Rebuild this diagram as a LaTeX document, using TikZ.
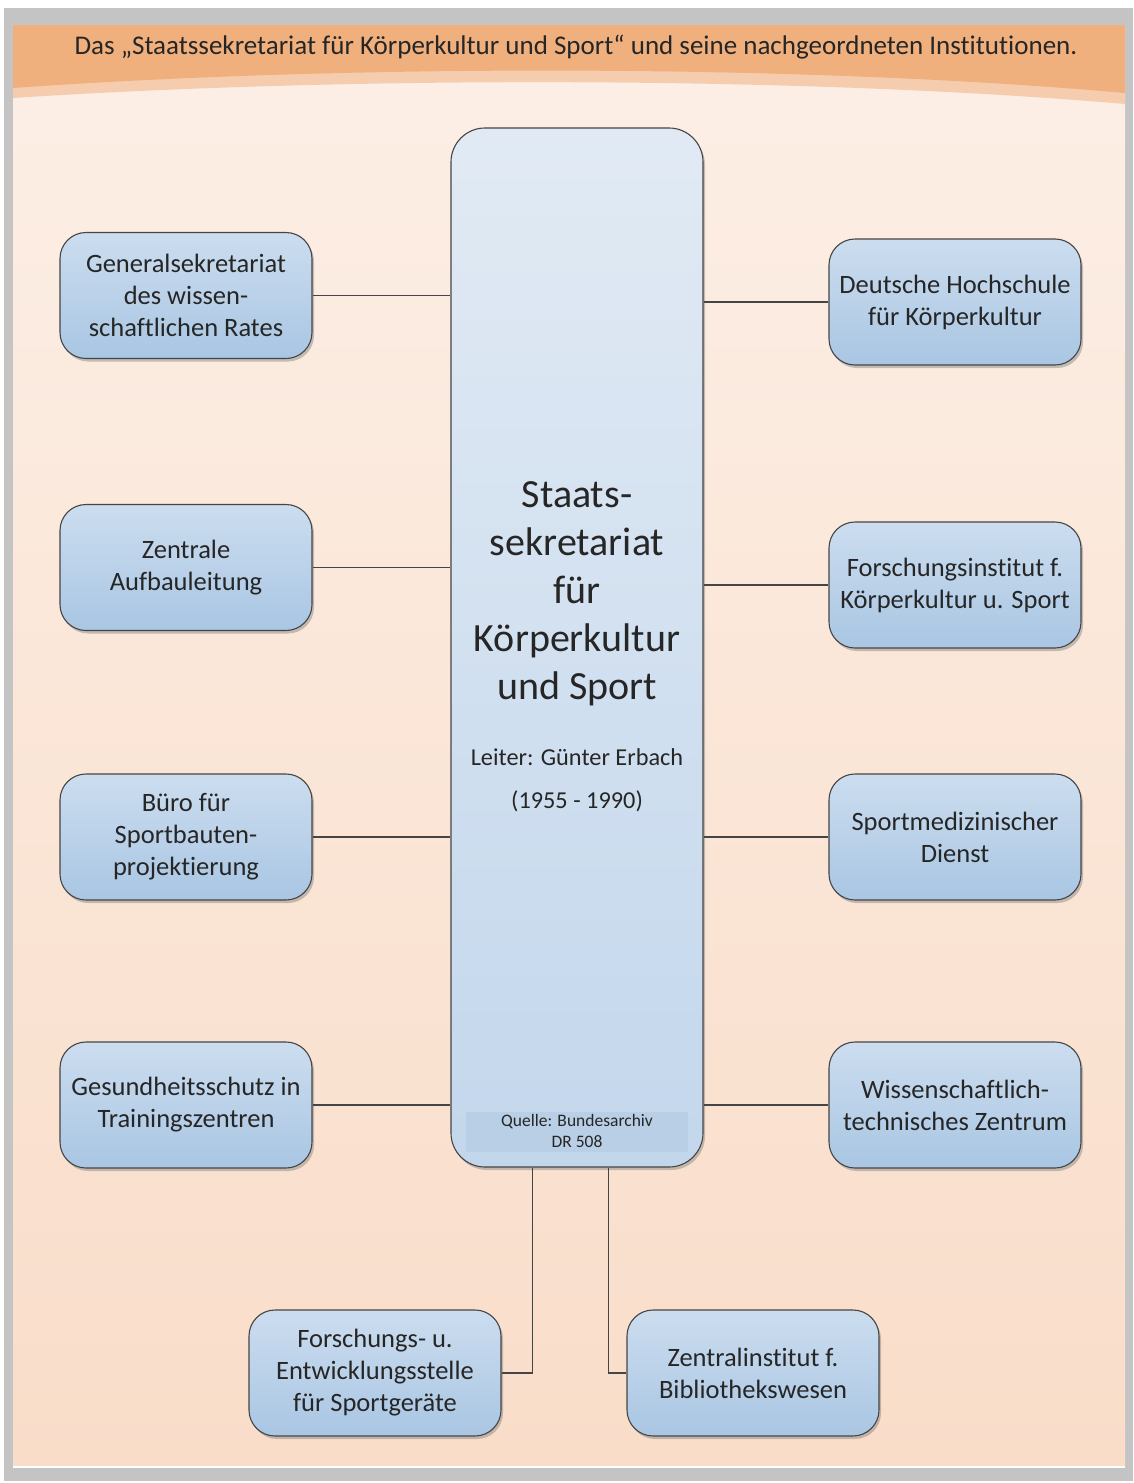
\documentclass[tikz,border=0pt]{standalone}
\usepackage{fontspec}
\setmainfont[Ligatures=NoCommon]{Carlito}
\usetikzlibrary{shadows}
\definecolor{framegray}{HTML}{C4C4C4}
\definecolor{bgtop}{HTML}{FCEFE6}
\definecolor{bgbot}{HTML}{F9DDC9}
\definecolor{banddark}{HTML}{F0B07E}
\definecolor{bandlight}{HTML}{F5CDAE}
\definecolor{boxtop}{HTML}{CCDDEF}
\definecolor{boxbot}{HTML}{A9C6E3}
\definecolor{centtop}{HTML}{E1EAF4}
\definecolor{centbot}{HTML}{C3D7EC}
\definecolor{quellefill}{HTML}{B4CCE4}
\definecolor{boxline}{HTML}{454545}
\definecolor{textc}{HTML}{262626}
\tikzset{
  unit/.style={draw=boxline, line width=1.1pt, rounded corners=26pt,
    top color=boxtop, bottom color=boxbot,
    minimum width=252pt, minimum height=126pt, inner sep=4pt,
    align=center, text=textc, font=\fontsize{26.5}{32}\selectfont,
    drop shadow={shadow xshift=2pt, shadow yshift=-3pt, opacity=0.45}},
  conn/.style={draw=boxline, line width=1.1pt},
}
\begin{document}
\begin{tikzpicture}[x=1pt,y=-1pt]
\useasboundingbox (0,0) rectangle (1133,1483);
% page and frame
\fill[white] (0,0) rectangle (1133,1483);
\fill[framegray] (4,8) rectangle (1133,1481);
\shade[top color=bgtop, bottom color=bgbot] (13,25) rectangle (1125,1466);
\draw[white, line width=1.5pt] (13,1467) -- (1125,1467);
% header band
\fill[bandlight] (13,25) -- (1125,25) -- (1125,104) .. controls (800,76) and (350,76) .. (13,98) -- cycle;
\fill[banddark] (13,25) -- (1125,25) -- (1125,93) .. controls (800,64) and (350,64) .. (13,88) -- cycle;
\node[text=textc, font=\fontsize{27}{30}\selectfont] (title) at (576,47)
  {Das „Staatssekretariat für Körperkultur und Sport“ und seine nachgeordneten Institutionen.};

% central office
\node[draw=boxline, line width=1.1pt, rounded corners=34pt,
  top color=centtop, bottom color=centbot,
  minimum width=252pt, minimum height=1039pt,
  drop shadow={shadow xshift=2pt, shadow yshift=-3pt, opacity=0.45}] (sk) at (577,647.5) {};
\node[text=textc, align=center, font=\fontsize{40}{48}\selectfont] (sktitle) at (577,594)
  {Staats-\\sekretariat\\für\\Körperkultur\\und Sport};
\node[text=textc, align=center, font=\fontsize{24.3}{43}\selectfont] (skleiter) at (577,780)
  {Leiter: Günter Erbach\\(1955 - 1990)};
\fill[quellefill, opacity=0.7] (466,1112) rectangle (688,1152);
\node[text=textc, align=center, font=\fontsize{17.5}{21}\selectfont] (skquelle) at (577,1131)
  {Quelle: Bundesarchiv\\DR 508};

% left column
\node[unit] (gen) at (186,295.5) {Generalsekretariat\\des wissen-\\schaftlichen Rates};
\node[unit] (zab) at (186,567.5) {Zentrale\\Aufbauleitung};
\node[unit] (bsb) at (186,837) {Büro für\\Sportbauten-\\projektierung};
\node[unit] (gtz) at (186,1105) {Gesundheitsschutz in\\Trainingszentren};

% right column
\node[unit] (dhk) at (955,302) {Deutsche Hochschule\\für Körperkultur};
\node[unit] (fks) at (955,585) {Forschungsinstitut f.\\Körperkultur u. Sport};
\node[unit] (smd) at (955,837) {Sportmedizinischer\\Dienst};
\node[unit] (wtz) at (955,1105) {Wissenschaftlich-\\technisches Zentrum};

% bottom row
\node[unit] (fes) at (375,1373) {Forschungs- u.\\Entwicklungsstelle\\für Sportgeräte};
\node[unit] (zib) at (753,1373) {Zentralinstitut f.\\Bibliothekswesen};

% connectors
\draw[conn] (gen.east) -- (gen.east -| sk.west);
\draw[conn] (zab.east) -- (zab.east -| sk.west);
\draw[conn] (bsb.east) -- (bsb.east -| sk.west);
\draw[conn] (gtz.east) -- (gtz.east -| sk.west);
\draw[conn] (dhk.west -| sk.east) -- (dhk.west);
\draw[conn] (fks.west -| sk.east) -- (fks.west);
\draw[conn] (smd.west -| sk.east) -- (smd.west);
\draw[conn] (wtz.west -| sk.east) -- (wtz.west);
\draw[conn] ([xshift=82pt]sk.south west) |- (fes.east);
\draw[conn] ([xshift=158pt]sk.south west) |- (zib.west);
\end{tikzpicture}
\end{document}
